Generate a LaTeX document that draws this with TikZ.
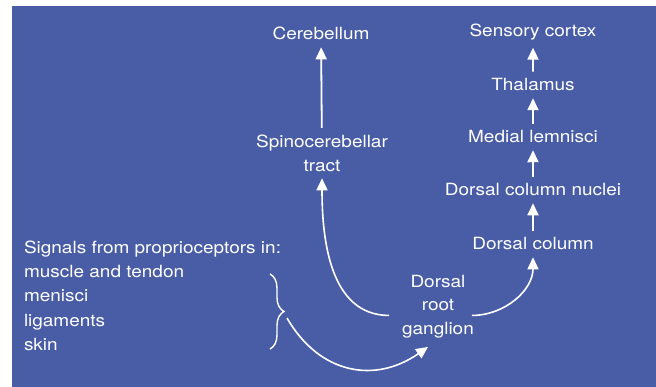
\documentclass[tikz,border=0pt]{standalone}
\usepackage{fontspec}
\setmainfont{TeX Gyre Heros}
\usepackage{tikz}
\usetikzlibrary{arrows.meta,decorations.pathreplacing}
\definecolor{panel}{RGB}{73,93,167}
\tikzset{
  lbl/.style={text=white, inner sep=0pt, outer sep=7pt, xscale=1.13,
    font=\fontsize{16.8}{23.5}\selectfont, align=center},
  lblleft/.style={lbl, align=left, outer sep=0pt, font=\fontsize{16.8}{24.2}\selectfont},
  line/.style={color=white, line width=1.8pt, -{Triangle[length=12pt,width=11pt]}},
  curve/.style={color=white, line width=1.6pt, -{Triangle[length=12pt,width=11pt]}},
  bracket/.style={color=white, line width=1.4pt, decorate,
    decoration={brace, amplitude=14pt, aspect=0.5}},
}
\begin{document}
\begin{tikzpicture}[x=1pt, y=-1pt]
  \useasboundingbox (0,0) rectangle (656,387);
  \fill[panel] (12,6) rectangle (656,387);

  % dorsal column pathway
  \node[lbl, anchor=base] (cortex) at (533,37) {Sensory cortex};
  \node[lbl, anchor=base] (thal) at (533,91) {Thalamus};
  \node[lbl, anchor=base] (lemn) at (533,143) {Medial lemnisci};
  \node[lbl, anchor=base] (dcn) at (533,196) {Dorsal column nuclei};
  \node[lbl, anchor=base] (dcol) at (533,250) {Dorsal column};

  % spinocerebellar pathway
  \node[lbl, anchor=base] (cereb) at (321,40) {Cerebellum};
  \node[lbl, anchor=north] (tract) at (322,128) {Spinocerebellar\\tract};

  \node[lbl, anchor=north, outer sep=0pt] (drg) at (438,275) {Dorsal\\root\\ganglion};

  \node[lblleft, anchor=north west] (signals) at (24,241)
    {Signals from proprioceptors in:\\muscle and tendon\\menisci\\ligaments\\skin};

  \draw[bracket] (270,274) -- (270,349);
  \coordinate (brc) at (287,318);

  \path[line]
    (dcol) edge (dcn)
    (dcn) edge (lemn)
    (lemn) edge (thal)
    (thal) edge (cortex)
    (tract) edge (cereb);

  \draw[curve] ([xshift=-13pt,yshift=-9pt]drg.west) to[out=180, in=-90] (tract.south);
  \draw[curve] ([xshift=-2pt,yshift=-9pt]drg.east) to[out=0, in=-90] (dcol.south);
  \draw[curve] (brc) to[out=-60, in=215, looseness=1.15] ([xshift=-10pt,yshift=-9pt]drg.south);
\end{tikzpicture}
\end{document}
